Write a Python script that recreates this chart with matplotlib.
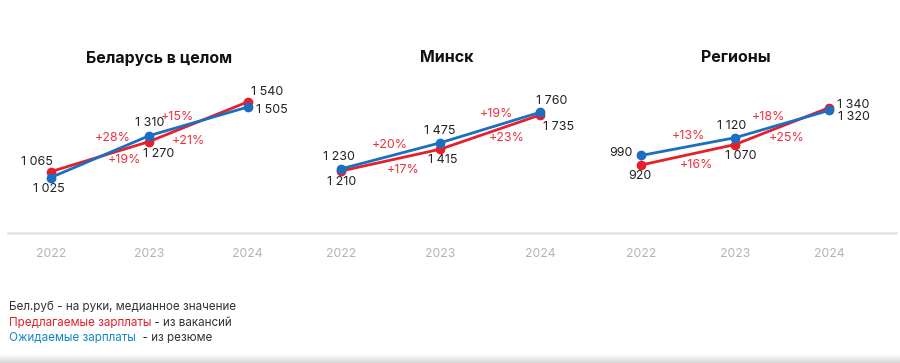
import matplotlib
matplotlib.use("Agg")
import matplotlib.pyplot as plt
import numpy as np

plt.rcParams['font.family'] = ['Inter', 'DejaVu Sans']

years = ["2022", "2023", "2024"]
titles = ["Беларусь в целом", "Минск", "Регионы"]
offered = [[1065, 1270, 1540], [1210, 1415, 1735], [920, 1070, 1340]]   # red
expected = [[1025, 1310, 1505], [1230, 1475, 1760], [990, 1120, 1320]]  # blue
offered_growth = [["+19%", "+21%"], ["+17%", "+23%"], ["+16%", "+25%"]]
expected_growth = [["+28%", "+15%"], ["+20%", "+19%"], ["+13%", "+18%"]]

RED = "#e5202b"
BLUE = "#1b6ec1"
PCT = "#ea3340"
DARK = "#222222"

W, H = 900, 363
fig = plt.figure(figsize=(9, 3.63), dpi=100)

# layout (pixel based)
panels_px = [(8, 296), (296, 596), (596, 896)]
xlims = [(-0.433, 2.49), (-0.452, 2.563), (-0.479, 2.713)]
ylims = [(650, 1689), (632, 2063), (424, 1543)]
y_bot_px, y_top_px = 232.7, 80
title_x = [159, 447, 736]

# label offsets in pixels (dx, dy down positive)
off_red = [[(-14, -10), (9, 12), (19, -10)],
           [(1, 11), (2, 11), (19, 12)],
           [(-1, 11), (6, 11.6), (24, -3)]]
off_blue = [[(-2, 11), (0, -13), (24, 3)],
            [(-2, -12), (-1, -12), (12, -11)],
            [(-20, -2), (-3, -12), (25, 7)]]
off_pct_blue = [[(13, -19), (-21, -4)], [(-1, -11), (6.5, -14)], [(0, -11), (-13.5, -7.5)]]
off_pct_red = [[(25, 3), (-10, 19)], [(12, 10), (16.5, 6)], [(8.5, 10), (4.5, 12)]]

def fmt(v):
    return f"{v:,}".replace(",", " ")

LBL = 9
for i in range(3):
    l, r = panels_px[i]
    ax = fig.add_axes([l / W, (H - y_bot_px) / H, (r - l) / W, (y_bot_px - y_top_px) / H])
    ax.set_xlim(*xlims[i])
    ax.set_ylim(*ylims[i])
    for s in ["top", "right", "left"]:
        ax.spines[s].set_visible(False)
    ax.spines["bottom"].set_color("#e4e4e4")
    ax.spines["bottom"].set_linewidth(1.8)
    ax.set_yticks([])
    x = np.arange(3)
    ax.set_xticks(x)
    ax.set_xticklabels(years, color="#b4b4b4", fontsize=8.8)
    ax.tick_params(axis="x", length=0, pad=11)
    ax.patch.set_alpha(0)

    ax.plot(x, offered[i], color=RED, lw=2, marker="o", ms=6, zorder=3, clip_on=False)
    ax.plot(x, expected[i], color=BLUE, lw=2, marker="o", ms=6, zorder=4, clip_on=False)

    for j in range(3):
        dx, dy = off_red[i][j]
        ax.annotate(fmt(offered[i][j]), (x[j], offered[i][j]), xytext=(dx, -dy),
                    textcoords="offset pixels", ha="center", va="center",
                    fontsize=LBL, color=DARK)
        dx, dy = off_blue[i][j]
        ax.annotate(fmt(expected[i][j]), (x[j], expected[i][j]), xytext=(dx, -dy),
                    textcoords="offset pixels", ha="center", va="center",
                    fontsize=LBL, color=DARK)
    for j in range(2):
        xm = j + 0.5
        ym = (expected[i][j] + expected[i][j + 1]) / 2
        dx, dy = off_pct_blue[i][j]
        ax.annotate(expected_growth[i][j], (xm, ym), xytext=(dx, -dy),
                    textcoords="offset pixels", ha="center", va="center",
                    fontsize=LBL, color=PCT)
        ym = (offered[i][j] + offered[i][j + 1]) / 2
        dx, dy = off_pct_red[i][j]
        ax.annotate(offered_growth[i][j], (xm, ym), xytext=(dx, -dy),
                    textcoords="offset pixels", ha="center", va="center",
                    fontsize=LBL, color=PCT)

    fig.text(title_x[i] / W, (H - 58) / H, titles[i], ha="center", va="center",
             fontsize=11.5, fontweight="bold", color="#111111")

# footer
fs = 8.4
fig.text(9 / W, (H - 307) / H, "Бел.руб - на руки, медианное значение",
         ha="left", va="center", fontsize=fs, color="#333333")
t2 = fig.text(9 / W, (H - 323) / H, "Предлагаемые зарплаты", ha="left", va="center",
              fontsize=fs, color="#e3202a")
fig.add_artist(matplotlib.text.Annotation(" - из вакансий", xy=(1, 0.5), xycoords=t2,
               ha="left", va="center", fontsize=fs, color="#333333", annotation_clip=False))
t3 = fig.text(9 / W, (H - 338) / H, "Ожидаемые зарплаты", ha="left", va="center",
              fontsize=fs, color="#1287c9")
fig.add_artist(matplotlib.text.Annotation("  - из резюме", xy=(1, 0.5), xycoords=t3,
               ha="left", va="center", fontsize=fs, color="#333333", annotation_clip=False))

# bottom gradient band
gax = fig.add_axes([0, 0, 1, 9 / H])
grad = np.linspace(0, 1, 50).reshape(-1, 1)
gax.imshow(grad, aspect="auto", cmap=matplotlib.colors.LinearSegmentedColormap.from_list(
    "g", ["#d6d6d6", "#ffffff"]), origin="lower", extent=[0, 1, 0, 1])
gax.axis("off")

fig.savefig("out.png", dpi=100, facecolor="white")
